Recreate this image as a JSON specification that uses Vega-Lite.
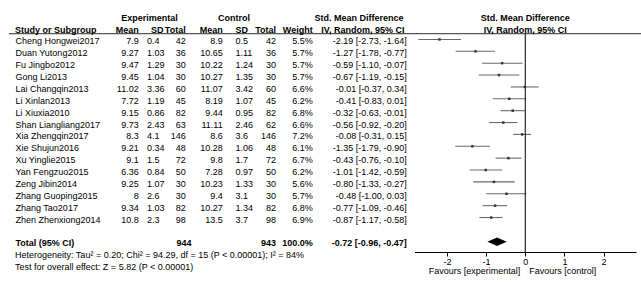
{
  "$schema": "https://vega.github.io/schema/vega-lite/v6.json",
  "width": 641,
  "height": 285,
  "padding": 0,
  "autosize": {"type": "none"},
  "background": "white",
  "config": {
    "view": {"stroke": null},
    "text": {"font": "Liberation Sans", "fontSize": 9, "color": "#000000", "baseline": "alphabetic"}
  },
  "datasets": {
    "studies": [
      {"study": "Cheng Hongwei2017", "em": 7.9, "esd": 0.4, "en": 42, "cm": 8.9, "csd": 0.5, "cn": 42, "w": "5.5%", "smd": -2.19, "lo": -2.73, "hi": -1.64, "ci": "-2.19 [-2.73, -1.64]"},
      {"study": "Duan Yutong2012", "em": 9.27, "esd": 1.03, "en": 36, "cm": 10.65, "csd": 1.11, "cn": 36, "w": "5.7%", "smd": -1.27, "lo": -1.78, "hi": -0.77, "ci": "-1.27 [-1.78, -0.77]"},
      {"study": "Fu Jingbo2012", "em": 9.47, "esd": 1.29, "en": 30, "cm": 10.22, "csd": 1.24, "cn": 30, "w": "5.7%", "smd": -0.59, "lo": -1.1, "hi": -0.07, "ci": "-0.59 [-1.10, -0.07]"},
      {"study": "Gong Li2013", "em": 9.45, "esd": 1.04, "en": 30, "cm": 10.27, "csd": 1.35, "cn": 30, "w": "5.7%", "smd": -0.67, "lo": -1.19, "hi": -0.15, "ci": "-0.67 [-1.19, -0.15]"},
      {"study": "Lai Changqin2013", "em": 11.02, "esd": 3.36, "en": 60, "cm": 11.07, "csd": 3.42, "cn": 60, "w": "6.6%", "smd": -0.01, "lo": -0.37, "hi": 0.34, "ci": "-0.01 [-0.37, 0.34]"},
      {"study": "Li Xinlan2013", "em": 7.72, "esd": 1.19, "en": 45, "cm": 8.19, "csd": 1.07, "cn": 45, "w": "6.2%", "smd": -0.41, "lo": -0.83, "hi": 0.01, "ci": "-0.41 [-0.83, 0.01]"},
      {"study": "Li Xiuxia2010", "em": 9.15, "esd": 0.86, "en": 82, "cm": 9.44, "csd": 0.95, "cn": 82, "w": "6.8%", "smd": -0.32, "lo": -0.63, "hi": -0.01, "ci": "-0.32 [-0.63, -0.01]"},
      {"study": "Shan Liangliang2017", "em": 9.73, "esd": 2.43, "en": 63, "cm": 11.11, "csd": 2.46, "cn": 62, "w": "6.6%", "smd": -0.56, "lo": -0.92, "hi": -0.2, "ci": "-0.56 [-0.92, -0.20]"},
      {"study": "Xia Zhengqin2017", "em": 8.3, "esd": 4.1, "en": 146, "cm": 8.6, "csd": 3.6, "cn": 146, "w": "7.2%", "smd": -0.08, "lo": -0.31, "hi": 0.15, "ci": "-0.08 [-0.31, 0.15]"},
      {"study": "Xie Shujun2016", "em": 9.21, "esd": 0.34, "en": 48, "cm": 10.28, "csd": 1.06, "cn": 48, "w": "6.1%", "smd": -1.35, "lo": -1.79, "hi": -0.9, "ci": "-1.35 [-1.79, -0.90]"},
      {"study": "Xu Yinglie2015", "em": 9.1, "esd": 1.5, "en": 72, "cm": 9.8, "csd": 1.7, "cn": 72, "w": "6.7%", "smd": -0.43, "lo": -0.76, "hi": -0.1, "ci": "-0.43 [-0.76, -0.10]"},
      {"study": "Yan Fengzuo2015", "em": 6.36, "esd": 0.84, "en": 50, "cm": 7.28, "csd": 0.97, "cn": 50, "w": "6.2%", "smd": -1.01, "lo": -1.42, "hi": -0.59, "ci": "-1.01 [-1.42, -0.59]"},
      {"study": "Zeng Jibin2014", "em": 9.25, "esd": 1.07, "en": 30, "cm": 10.23, "csd": 1.33, "cn": 30, "w": "5.6%", "smd": -0.8, "lo": -1.33, "hi": -0.27, "ci": "-0.80 [-1.33, -0.27]"},
      {"study": "Zhang Guoping2015", "em": 8, "esd": 2.6, "en": 30, "cm": 9.4, "csd": 3.1, "cn": 30, "w": "5.7%", "smd": -0.48, "lo": -1.0, "hi": 0.03, "ci": "-0.48 [-1.00, 0.03]"},
      {"study": "Zhang Tao2017", "em": 9.34, "esd": 1.03, "en": 82, "cm": 10.27, "csd": 1.34, "cn": 82, "w": "6.8%", "smd": -0.77, "lo": -1.09, "hi": -0.46, "ci": "-0.77 [-1.09, -0.46]"},
      {"study": "Zhen Zhenxiong2014", "em": 10.8, "esd": 2.3, "en": 98, "cm": 13.5, "csd": 3.7, "cn": 98, "w": "6.9%", "smd": -0.87, "lo": -1.17, "hi": -0.58, "ci": "-0.87 [-1.17, -0.58]"}
    ],
    "total": [
      {"study": "Total (95% CI)", "en": 944, "cn": 943, "w": "100.0%", "smd": -0.72, "lo": -0.96, "hi": -0.47, "ci": "-0.72 [-0.96, -0.47]"}
    ],
    "blank": [{}]
  },
  "layer": [
    {
      "data": {"name": "blank"},
      "mark": {"type": "rule", "color": "#555555", "strokeWidth": 1.2, "yOffset": 1},
      "encoding": {
        "x": {"value": 9},
        "x2": {"value": 641},
        "y": {"datum": "h2", "type": "nominal", "axis": null, "scale": {"type": "point", "domain": ["h1","h2","Cheng Hongwei2017","Duan Yutong2012","Fu Jingbo2012","Gong Li2013","Lai Changqin2013","Li Xinlan2013","Li Xiuxia2010","Shan Liangliang2017","Xia Zhengqin2017","Xie Shujun2016","Xu Yinglie2015","Yan Fengzuo2015","Zeng Jibin2014","Zhang Guoping2015","Zhang Tao2017","Zhen Zhenxiong2014","gap","Total (95% CI)","het","test"], "range": [20.7, 270], "padding": 0}}
      }
    },
    {
      "data": {"name": "studies"},
      "mark": {"type": "rule", "color": "#6a6a6a", "strokeWidth": 1.1, "yOffset": -5},
      "encoding": {
        "x": {"field": "lo", "type": "quantitative", "scale": {"domain": [-2.83, 2.83], "range": [414.5, 636], "nice": false, "zero": false},
              "axis": {"values": [-2, -1, 0, 1, 2], "offset": -33, "title": null, "grid": false, "domainColor": "#000000", "domainWidth": 1, "tickColor": "#000000", "tickWidth": 1, "tickSize": 4, "labelPadding": 1, "labelFont": "Liberation Sans", "labelFontSize": 9, "labelColor": "#000000", "labelExpr": "datum.value", "labelFlush": false, "labelOverlap": false}},
        "x2": {"field": "hi"},
        "y": {"field": "study", "type": "nominal", "axis": null, "scale": {"type": "point", "domain": ["h1","h2","Cheng Hongwei2017","Duan Yutong2012","Fu Jingbo2012","Gong Li2013","Lai Changqin2013","Li Xinlan2013","Li Xiuxia2010","Shan Liangliang2017","Xia Zhengqin2017","Xie Shujun2016","Xu Yinglie2015","Yan Fengzuo2015","Zeng Jibin2014","Zhang Guoping2015","Zhang Tao2017","Zhen Zhenxiong2014","gap","Total (95% CI)","het","test"], "range": [20.7, 270], "padding": 0}}
      }
    },
    {
      "data": {"name": "blank"},
      "mark": {"type": "rule", "color": "#000000", "strokeWidth": 1, "yOffset": 1, "y2Offset": -6},
      "encoding": {
        "x": {"datum": 0, "type": "quantitative", "scale": {"domain": [-2.83, 2.83], "range": [414.5, 636], "nice": false, "zero": false}},
        "y": {"datum": "h2", "type": "nominal", "axis": null, "scale": {"type": "point", "domain": ["h1","h2","Cheng Hongwei2017","Duan Yutong2012","Fu Jingbo2012","Gong Li2013","Lai Changqin2013","Li Xinlan2013","Li Xiuxia2010","Shan Liangliang2017","Xia Zhengqin2017","Xie Shujun2016","Xu Yinglie2015","Yan Fengzuo2015","Zeng Jibin2014","Zhang Guoping2015","Zhang Tao2017","Zhen Zhenxiong2014","gap","Total (95% CI)","het","test"], "range": [20.7, 270], "padding": 0}},
        "y2": {"datum": "het"}
      }
    },
    {
      "data": {"name": "studies"},
      "mark": {"type": "point", "shape": "square", "filled": true, "size": 6, "color": "#333333", "opacity": 1, "yOffset": -5},
      "encoding": {
        "x": {"field": "smd", "type": "quantitative", "scale": {"domain": [-2.83, 2.83], "range": [414.5, 636], "nice": false, "zero": false}},
        "y": {"field": "study", "type": "nominal", "axis": null, "scale": {"type": "point", "domain": ["h1","h2","Cheng Hongwei2017","Duan Yutong2012","Fu Jingbo2012","Gong Li2013","Lai Changqin2013","Li Xinlan2013","Li Xiuxia2010","Shan Liangliang2017","Xia Zhengqin2017","Xie Shujun2016","Xu Yinglie2015","Yan Fengzuo2015","Zeng Jibin2014","Zhang Guoping2015","Zhang Tao2017","Zhen Zhenxiong2014","gap","Total (95% CI)","het","test"], "range": [20.7, 270], "padding": 0}}
      }
    },
    {
      "data": {"name": "total"},
      "mark": {"type": "point", "shape": "M-1,0L0,-0.44L1,0L0,0.44Z", "filled": true, "size": 375, "color": "#000000", "opacity": 1, "strokeWidth": 0, "yOffset": -4.5},
      "encoding": {
        "x": {"field": "smd", "type": "quantitative", "scale": {"domain": [-2.83, 2.83], "range": [414.5, 636], "nice": false, "zero": false}},
        "y": {"field": "study", "type": "nominal", "axis": null, "scale": {"type": "point", "domain": ["h1","h2","Cheng Hongwei2017","Duan Yutong2012","Fu Jingbo2012","Gong Li2013","Lai Changqin2013","Li Xinlan2013","Li Xiuxia2010","Shan Liangliang2017","Xia Zhengqin2017","Xie Shujun2016","Xu Yinglie2015","Yan Fengzuo2015","Zeng Jibin2014","Zhang Guoping2015","Zhang Tao2017","Zhen Zhenxiong2014","gap","Total (95% CI)","het","test"], "range": [20.7, 270], "padding": 0}}
      }
    },
    {
      "data": {"name": "studies"},
      "encoding": {
        "y": {"field": "study", "type": "nominal", "axis": null, "scale": {"type": "point", "domain": ["h1","h2","Cheng Hongwei2017","Duan Yutong2012","Fu Jingbo2012","Gong Li2013","Lai Changqin2013","Li Xinlan2013","Li Xiuxia2010","Shan Liangliang2017","Xia Zhengqin2017","Xie Shujun2016","Xu Yinglie2015","Yan Fengzuo2015","Zeng Jibin2014","Zhang Guoping2015","Zhang Tao2017","Zhen Zhenxiong2014","gap","Total (95% CI)","het","test"], "range": [20.7, 270], "padding": 0}}
      },
      "layer": [
        {"mark": {"type": "text", "align": "left"}, "encoding": {"x": {"value": 15.5}, "text": {"field": "study", "type": "nominal"}}},
        {"mark": {"type": "text", "align": "right"}, "encoding": {"x": {"value": 138.7}, "text": {"field": "em", "type": "nominal"}}},
        {"mark": {"type": "text", "align": "left"}, "encoding": {"x": {"value": 147}, "text": {"field": "esd", "type": "nominal"}}},
        {"mark": {"type": "text", "align": "right"}, "encoding": {"x": {"value": 185.7}, "text": {"field": "en", "type": "nominal"}}},
        {"mark": {"type": "text", "align": "right"}, "encoding": {"x": {"value": 222.7}, "text": {"field": "cm", "type": "nominal"}}},
        {"mark": {"type": "text", "align": "left"}, "encoding": {"x": {"value": 235.5}, "text": {"field": "csd", "type": "nominal"}}},
        {"mark": {"type": "text", "align": "right"}, "encoding": {"x": {"value": 276}, "text": {"field": "cn", "type": "nominal"}}},
        {"mark": {"type": "text", "align": "right"}, "encoding": {"x": {"value": 312.7}, "text": {"field": "w", "type": "nominal"}}},
        {"mark": {"type": "text", "align": "right"}, "encoding": {"x": {"value": 406.7}, "text": {"field": "ci", "type": "nominal"}}}
      ]
    },
    {
      "data": {"name": "total"},
      "encoding": {
        "y": {"field": "study", "type": "nominal", "axis": null, "scale": {"type": "point", "domain": ["h1","h2","Cheng Hongwei2017","Duan Yutong2012","Fu Jingbo2012","Gong Li2013","Lai Changqin2013","Li Xinlan2013","Li Xiuxia2010","Shan Liangliang2017","Xia Zhengqin2017","Xie Shujun2016","Xu Yinglie2015","Yan Fengzuo2015","Zeng Jibin2014","Zhang Guoping2015","Zhang Tao2017","Zhen Zhenxiong2014","gap","Total (95% CI)","het","test"], "range": [20.7, 270], "padding": 0}}
      },
      "layer": [
        {"mark": {"type": "text", "align": "left", "fontWeight": "bold"}, "encoding": {"x": {"value": 15.5}, "text": {"field": "study", "type": "nominal"}}},
        {"mark": {"type": "text", "align": "right", "fontWeight": "bold"}, "encoding": {"x": {"value": 191.5}, "text": {"field": "en", "type": "nominal"}}},
        {"mark": {"type": "text", "align": "right", "fontWeight": "bold"}, "encoding": {"x": {"value": 276}, "text": {"field": "cn", "type": "nominal"}}},
        {"mark": {"type": "text", "align": "right", "fontWeight": "bold"}, "encoding": {"x": {"value": 312.7}, "text": {"field": "w", "type": "nominal"}}},
        {"mark": {"type": "text", "align": "right", "fontWeight": "bold"}, "encoding": {"x": {"value": 406.7}, "text": {"field": "ci", "type": "nominal"}}}
      ]
    },
    {
      "data": {"name": "blank"},
      "layer": [
        {"mark": {"type": "text", "align": "center", "fontWeight": "bold", "text": "Experimental"}, "encoding": {"x": {"value": 149.5}, "y": {"datum": "h1", "type": "nominal"}}},
        {"mark": {"type": "text", "align": "center", "fontWeight": "bold", "text": "Control"}, "encoding": {"x": {"value": 234}, "y": {"datum": "h1", "type": "nominal"}}},
        {"mark": {"type": "text", "align": "right", "fontWeight": "bold", "text": "Std. Mean Difference"}, "encoding": {"x": {"value": 403.5}, "y": {"datum": "h1", "type": "nominal"}}},
        {"mark": {"type": "text", "align": "center", "fontWeight": "bold", "text": "Std. Mean Difference"}, "encoding": {"x": {"datum": 0, "type": "quantitative"}, "y": {"datum": "h1", "type": "nominal"}}},
        {"mark": {"type": "text", "align": "left", "fontWeight": "bold", "text": "Study or Subgroup"}, "encoding": {"x": {"value": 15}, "y": {"datum": "h2", "type": "nominal"}}},
        {"mark": {"type": "text", "align": "right", "fontWeight": "bold", "text": "Mean"}, "encoding": {"x": {"value": 138.7}, "y": {"datum": "h2", "type": "nominal"}}},
        {"mark": {"type": "text", "align": "left", "fontWeight": "bold", "text": "SD"}, "encoding": {"x": {"value": 151}, "y": {"datum": "h2", "type": "nominal"}}},
        {"mark": {"type": "text", "align": "right", "fontWeight": "bold", "text": "Total"}, "encoding": {"x": {"value": 185.7}, "y": {"datum": "h2", "type": "nominal"}}},
        {"mark": {"type": "text", "align": "right", "fontWeight": "bold", "text": "Mean"}, "encoding": {"x": {"value": 222.7}, "y": {"datum": "h2", "type": "nominal"}}},
        {"mark": {"type": "text", "align": "left", "fontWeight": "bold", "text": "SD"}, "encoding": {"x": {"value": 235.5}, "y": {"datum": "h2", "type": "nominal"}}},
        {"mark": {"type": "text", "align": "right", "fontWeight": "bold", "text": "Total"}, "encoding": {"x": {"value": 276}, "y": {"datum": "h2", "type": "nominal"}}},
        {"mark": {"type": "text", "align": "right", "fontWeight": "bold", "text": "Weight"}, "encoding": {"x": {"value": 312.7}, "y": {"datum": "h2", "type": "nominal"}}},
        {"mark": {"type": "text", "align": "right", "fontWeight": "bold", "text": "IV, Random, 95% CI"}, "encoding": {"x": {"value": 404.5}, "y": {"datum": "h2", "type": "nominal"}}},
        {"mark": {"type": "text", "align": "center", "fontWeight": "bold", "text": "IV, Random, 95% CI"}, "encoding": {"x": {"datum": 0, "type": "quantitative"}, "y": {"datum": "h2", "type": "nominal"}}},
        {"mark": {"type": "text", "align": "left", "text": "Heterogeneity: Tau² = 0.20; Chi² = 94.29, df = 15 (P < 0.00001); I² = 84%"}, "encoding": {"x": {"value": 15}, "y": {"datum": "het", "type": "nominal"}}},
        {"mark": {"type": "text", "align": "left", "text": "Test for overall effect: Z = 5.82 (P < 0.00001)"}, "encoding": {"x": {"value": 15}, "y": {"datum": "test", "type": "nominal"}}},
        {"mark": {"type": "text", "align": "right", "dx": -5, "dy": 4, "text": "Favours [experimental]"}, "encoding": {"x": {"datum": 0, "type": "quantitative"}, "y": {"datum": "test", "type": "nominal"}}},
        {"mark": {"type": "text", "align": "left", "dx": 4, "dy": 4, "text": "Favours [control]"}, "encoding": {"x": {"datum": 0, "type": "quantitative"}, "y": {"datum": "test", "type": "nominal"}}}
      ]
    }
  ]
}
